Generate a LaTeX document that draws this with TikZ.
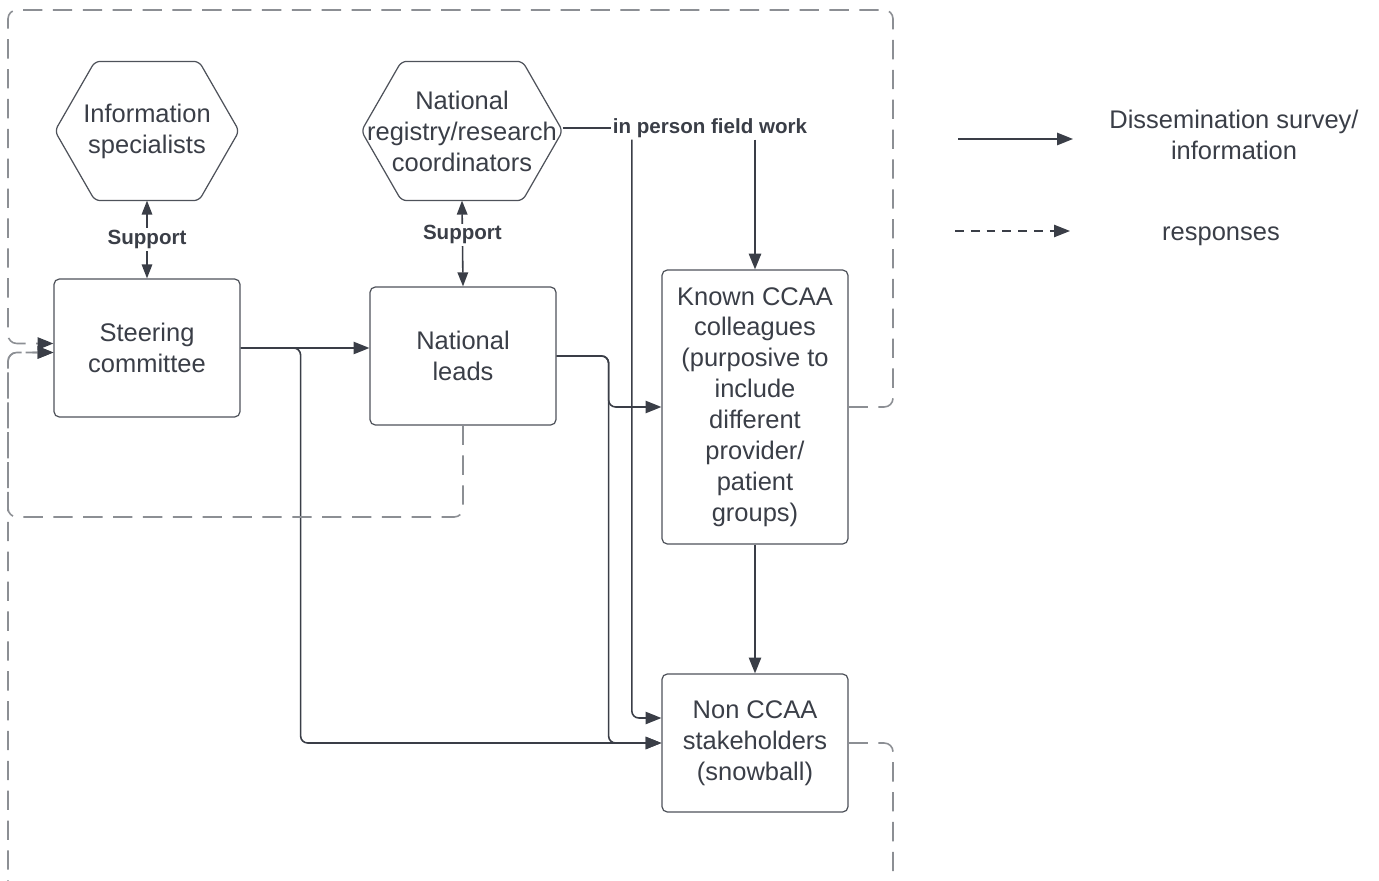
\documentclass[tikz,border=0pt]{standalone}
\usepackage{fontspec}
\setmainfont{Liberation Sans}
\usetikzlibrary{arrows.meta, positioning, calc}
\definecolor{ink}{RGB}{58,62,71}
\definecolor{edge}{RGB}{78,82,90}
\definecolor{faint}{RGB}{140,143,148}

% hexagon frame around a named node
\newcommand{\hexframe}[1]{%
  \draw[edge, line width=0.7pt, rounded corners=3pt]
    (#1.west) -- ($(#1.north west)+(40,0)$) -- ($(#1.north east)+(-40,0)$)
    -- (#1.east) -- ($(#1.south east)+(-40,0)$) -- ($(#1.south west)+(40,0)$) -- cycle;}

\begin{document}
\begin{tikzpicture}[
  x=0.02cm, y=-0.02cm,
  box/.style={draw=edge, line width=0.7pt, rounded corners=3pt, text=ink,
              font=\fontsize{14.5}{17.6}\selectfont, align=center, inner sep=0pt,
              minimum width=3.72cm, minimum height=2.76cm},
  hexa/.style={box, draw=none},
  tip/.style={-{Triangle[length=9pt,width=7pt]}},
  arrow/.style={tip, draw=ink, line width=0.9pt, rounded corners=4pt},
  twoway/.style={{Triangle[length=8pt,width=6pt]}-{Triangle[length=8pt,width=6pt]}, draw=ink, line width=0.9pt},
  resp/.style={-{Triangle[length=9pt,width=7pt,color=ink]}, draw=faint, line width=0.9pt,
               dash pattern=on 11pt off 6pt, rounded corners=5pt},
  lbl/.style={font=\bfseries\fontsize{11.7}{14}\selectfont, text=ink, fill=white, inner sep=1pt},
  txt/.style={text=ink, font=\fontsize{14.5}{17.6}\selectfont, align=center},
]
  \useasboundingbox (0,0) rectangle (1379,881);
  \clip (0,0) rectangle (1379,881);

  % nodes
  \node[hexa, minimum width=3.66cm] (info) at (147,131) {Information\\specialists};
  \node[hexa, minimum width=4cm] (registry) at (462,131) {National\\registry/research\\coordinators};
  \hexframe{info}
  \hexframe{registry}
  \node[box] (steering) at (147,348) {Steering\\committee};
  \node[box] (leads) at (463,356) {National\\leads};
  \node[box, minimum height=5.48cm] (known) at (755,407) {Known CCAA\\colleagues\\(purposive to\\include\\different\\provider/\\patient\\groups)};
  \node[box] (nonccaa) at (755,743) {Non CCAA\\stakeholders\\(snowball)};
  \node[lbl] (field) at (710,128) {in person field work};

  % dissemination
  \draw[twoway] (info.south) -- node[lbl] {Support} (steering.north);
  \draw[twoway] (registry.south) -- node[lbl, pos=0.4] {Support} (leads.north);
  \draw[arrow] (steering.east) -- (steering.east -| leads.west);
  \draw[arrow] (steering.east) -- ++(60,0) |- (nonccaa.west);
  \draw[arrow] (leads.east) -- ++(52,0) |- (known.west);
  \draw[arrow] (leads.east) -- ++(52,0) |- (nonccaa.west);
  \draw[ink, line width=0.9pt] (field.west -| registry.east) -- (field.west);
  \draw[arrow] ([xshift=0.42cm]field.south west) |- ([yshift=0.5cm]nonccaa.west);
  \draw[arrow, line width=1.1pt] (field.south -| known.north) -- (known.north);
  \draw[arrow] (known.south) -- (nonccaa.north);

  % responses
  \draw[resp] (known.east) -| (893,10) -- (8,10) |- ([yshift=0.09cm]steering.west);
  \draw[resp] (nonccaa.east) -| (893,900) -- (8,900) |- ([yshift=-0.09cm]steering.west);
  \draw[resp] (leads.south) |- (8,517) |- ([yshift=-0.09cm]steering.west);

  % legend
  \coordinate (solidA) at (958,139);
  \coordinate (solidB) at (1073,139);
  \coordinate (dashA) at (955,231);
  \coordinate (dashB) at (1070,231);
  \draw[arrow] (solidA) -- (solidB);
  \draw[tip, draw=ink, line width=0.7pt, dash pattern=on 5pt off 4pt] (dashA) -- (dashB);
  \node[txt] (legsolid) at (1234,135) {Dissemination survey/\\information};
  \node[txt] (legdash) at (1221,236) {responses};
\end{tikzpicture}
\end{document}
